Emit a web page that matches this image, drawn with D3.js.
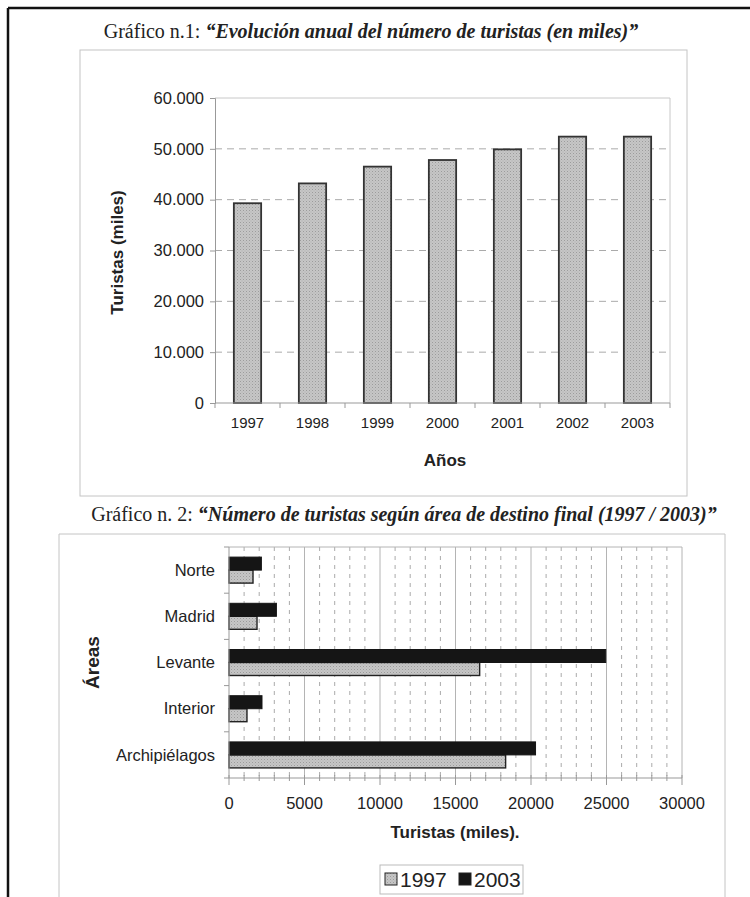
<!DOCTYPE html>
<html><head><meta charset="utf-8">
<script src="https://cdn.jsdelivr.net/npm/d3@7"></script>
<style>
html,body{margin:0;padding:0;background:#fff;}
svg{display:block;}
</style></head>
<body>
<svg id="c" width="750" height="897"></svg>
<script>
// ---- Data ----
const years = ["1997","1998","1999","2000","2001","2002","2003"];
const turistas = [39300, 43200, 46500, 47800, 49900, 52400, 52400];
const yTicks1 = [0,10000,20000,30000,40000,50000,60000];

const areas = ["Norte","Madrid","Levante","Interior","Archipiélagos"];
const v1997 = [1590, 1855, 16600, 1190, 18320];
const v2003 = [2145, 3140, 24950, 2185, 20300];
const xTicks2 = [0,5000,10000,15000,20000,25000,30000];
const seriesNames = ["1997","2003"];

const svg = d3.select("#c");
const sans = "Liberation Sans, Arial, sans-serif";
const serif = "Liberation Serif, Times New Roman, serif";
const es = d3.formatLocale({decimal:",",thousands:".",grouping:[3],currency:["","€"]});
const fmt1 = v => v===0 ? "0" : es.format(",")(v);

// pattern for textured gray bars
const defs = svg.append("defs");
const pat = defs.append("pattern").attr("id","tex").attr("patternUnits","userSpaceOnUse").attr("width",3).attr("height",3);
pat.append("rect").attr("width",3).attr("height",3).attr("fill","#c6c6c6");
pat.append("rect").attr("width",1).attr("height",1).attr("fill","#9c9c9c");
pat.append("rect").attr("x",1.5).attr("y",1.5).attr("width",1).attr("height",1).attr("fill","#b0b0b0");

// page frame
svg.append("line").attr("x1",8).attr("x2",750).attr("y1",8).attr("y2",8).attr("stroke","#111").attr("stroke-width",2.5);
svg.append("line").attr("x1",8).attr("x2",8).attr("y1",8).attr("y2",897).attr("stroke","#111").attr("stroke-width",2.5);

// ---- Chart 1 ----
const t1 = svg.append("text").attr("x",371).attr("y",38).attr("text-anchor","middle").attr("font-family",serif).attr("font-size",20).attr("fill","#222");
t1.append("tspan").text("Gráfico n.1: ");
t1.append("tspan").attr("font-weight","bold").attr("font-style","italic").text("“Evolución anual del número de turistas (en miles)”");

svg.append("rect").attr("x",80).attr("y",50).attr("width",607).attr("height",446).attr("fill","none").attr("stroke","#c4c4c4").attr("stroke-width",1);

const p1 = {l:215, r:670, t:98, b:403};
const x1 = d3.scaleBand().domain(years).range([p1.l,p1.r]).paddingInner(0.58).paddingOuter(0.29);
const y1 = d3.scaleLinear().domain([0,60000]).range([p1.b,p1.t]);

// plot border top/right
svg.append("path").attr("d",`M${p1.l},${p1.t}H${p1.r}V${p1.b}`).attr("fill","none").attr("stroke","#c8c8c8");
// dashed grid
svg.append("g").selectAll("line").data(yTicks1.filter(d=>d>0&&d<60000)).join("line")
  .attr("x1",p1.l).attr("x2",p1.r).attr("y1",d=>y1(d)).attr("y2",d=>y1(d))
  .attr("stroke","#aaa").attr("stroke-dasharray","7,5");

// bars
svg.append("g").selectAll("rect").data(years).join("rect")
  .attr("x",d=>x1(d)).attr("width",x1.bandwidth())
  .attr("y",(d,i)=>y1(turistas[i])).attr("height",(d,i)=>p1.b-y1(turistas[i]))
  .attr("fill","url(#tex)").attr("stroke","#333").attr("stroke-width",1.8);

// y axis
const ya1 = svg.append("g").attr("transform",`translate(${p1.l},0)`)
  .call(d3.axisLeft(y1).tickValues(yTicks1).tickFormat(fmt1).tickSize(5).tickPadding(6));
ya1.selectAll("path,line").attr("stroke","#999");
ya1.selectAll("text").attr("font-family",sans).attr("font-size",16.5).attr("fill","#222");

// x axis
const step = x1.step();
const xa1 = svg.append("g").attr("transform",`translate(0,${p1.b})`);
xa1.append("line").attr("x1",p1.l).attr("x2",p1.r).attr("stroke","#999");
xa1.selectAll("line.tk").data(d3.range(years.length+1)).join("line").attr("class","tk")
  .attr("x1",i=>p1.l+i*step).attr("x2",i=>p1.l+i*step).attr("y1",0).attr("y2",5).attr("stroke","#999");
xa1.selectAll("text").data(years).join("text")
  .attr("x",d=>x1(d)+x1.bandwidth()/2).attr("y",25).attr("text-anchor","middle")
  .attr("font-family",sans).attr("font-size",15).attr("fill","#222").text(d=>d);

svg.append("text").attr("x",445).attr("y",466).attr("text-anchor","middle").attr("font-family",sans)
  .attr("font-weight","bold").attr("font-size",17).attr("fill","#222").text("Años");
svg.append("text").attr("transform",`translate(123,${(p1.t+p1.b)/2+2}) rotate(-90)`).attr("text-anchor","middle")
  .attr("font-family",sans).attr("font-weight","bold").attr("font-size",17).attr("fill","#222").text("Turistas (miles)");

// ---- Chart 2 ----
const t2 = svg.append("text").attr("x",404).attr("y",521).attr("text-anchor","middle").attr("font-family",serif).attr("font-size",20).attr("fill","#222");
t2.append("tspan").text("Gráfico n. 2: ");
t2.append("tspan").attr("font-weight","bold").attr("font-style","italic").text("“Número de turistas según área de destino final (1997 / 2003)”");

svg.append("path").attr("d","M59,897V534H725V897").attr("fill","none").attr("stroke","#c4c4c4");

const p2 = {l:229, r:682, t:547, b:778};
const x2 = d3.scaleLinear().domain([0,30000]).range([p2.l,p2.r]);
const y2 = d3.scaleBand().domain(areas).range([p2.t,p2.b]);
const ys = d3.scaleBand().domain(["2003","1997"]).range([-13,13]);

// grid
svg.append("g").selectAll("line").data(d3.range(1000,30000,1000).filter(d=>d%5000!==0)).join("line")
  .attr("x1",d=>x2(d)).attr("x2",d=>x2(d)).attr("y1",p2.t).attr("y2",p2.b)
  .attr("stroke","#aaa").attr("stroke-dasharray","4,5");
svg.append("g").selectAll("line").data(xTicks2.filter(d=>d>0)).join("line")
  .attr("x1",d=>x2(d)).attr("x2",d=>x2(d)).attr("y1",p2.t).attr("y2",p2.b)
  .attr("stroke","#b4b4b4");
svg.append("line").attr("x1",p2.l).attr("x2",p2.r).attr("y1",p2.t).attr("y2",p2.t).attr("stroke","#b4b4b4");

// bars
const g2 = svg.append("g");
g2.selectAll("rect.b97").data(areas).join("rect").attr("class","b97")
  .attr("x",p2.l).attr("y",d=>y2(d)+y2.bandwidth()/2+ys("1997"))
  .attr("width",(d,i)=>x2(v1997[i])-p2.l).attr("height",ys.bandwidth())
  .attr("fill","url(#tex)").attr("stroke","#222").attr("stroke-width",1.4);
g2.selectAll("rect.b03").data(areas).join("rect").attr("class","b03")
  .attr("x",p2.l).attr("y",d=>y2(d)+y2.bandwidth()/2+ys("2003"))
  .attr("width",(d,i)=>x2(v2003[i])-p2.l).attr("height",ys.bandwidth())
  .attr("fill","#151515").attr("stroke","#151515").attr("stroke-width",1);

// y axis
const ya2 = svg.append("g");
ya2.append("line").attr("x1",p2.l).attr("x2",p2.l).attr("y1",p2.t).attr("y2",p2.b).attr("stroke","#999");
ya2.selectAll("line.tk").data(d3.range(areas.length+1)).join("line").attr("class","tk")
  .attr("x1",p2.l-5).attr("x2",p2.l).attr("y1",i=>p2.t+i*y2.step()).attr("y2",i=>p2.t+i*y2.step()).attr("stroke","#999");
ya2.selectAll("text").data(areas).join("text")
  .attr("x",p2.l-14).attr("y",d=>y2(d)+y2.bandwidth()/2).attr("dy","0.35em").attr("text-anchor","end")
  .attr("font-family",sans).attr("font-size",16.5).attr("fill","#222").text(d=>d);

// x axis
const xa2 = svg.append("g").attr("transform",`translate(0,${p2.b})`);
xa2.append("line").attr("x1",p2.l).attr("x2",p2.r).attr("stroke","#999");
xa2.selectAll("line.mn").data(d3.range(0,30001,1000)).join("line").attr("class","mn")
  .attr("x1",d=>x2(d)).attr("x2",d=>x2(d)).attr("y1",-3).attr("y2",d=>d%5000===0?7:3).attr("stroke","#999");
xa2.selectAll("text").data(xTicks2).join("text")
  .attr("x",d=>x2(d)).attr("y",31).attr("text-anchor","middle")
  .attr("font-family",sans).attr("font-size",16.5).attr("fill","#222").text(d=>d);

svg.append("text").attr("x",455).attr("y",838).attr("text-anchor","middle").attr("font-family",sans)
  .attr("font-weight","bold").attr("font-size",17).attr("fill","#222").text("Turistas (miles).");
svg.append("text").attr("transform",`translate(99,${(p2.t+p2.b)/2}) rotate(-90)`).attr("text-anchor","middle")
  .attr("font-family",sans).attr("font-weight","bold").attr("font-size",19).attr("fill","#222").text("Áreas");

// legend
const lg = svg.append("g");
lg.append("rect").attr("x",380).attr("y",865).attr("width",143).attr("height",29).attr("fill","none").attr("stroke","#bbb");
const lx = [385, 459];
const lfill = ["url(#tex)","#151515"];
seriesNames.forEach((s,i)=>{
  lg.append("rect").attr("x",lx[i]).attr("y",873).attr("width",12).attr("height",12).attr("fill",lfill[i]).attr("stroke","#222");
  lg.append("text").attr("x",lx[i]+15).attr("y",887).attr("font-family",sans).attr("font-size",21).attr("fill","#222").text(s);
});
</script>
</body></html>
